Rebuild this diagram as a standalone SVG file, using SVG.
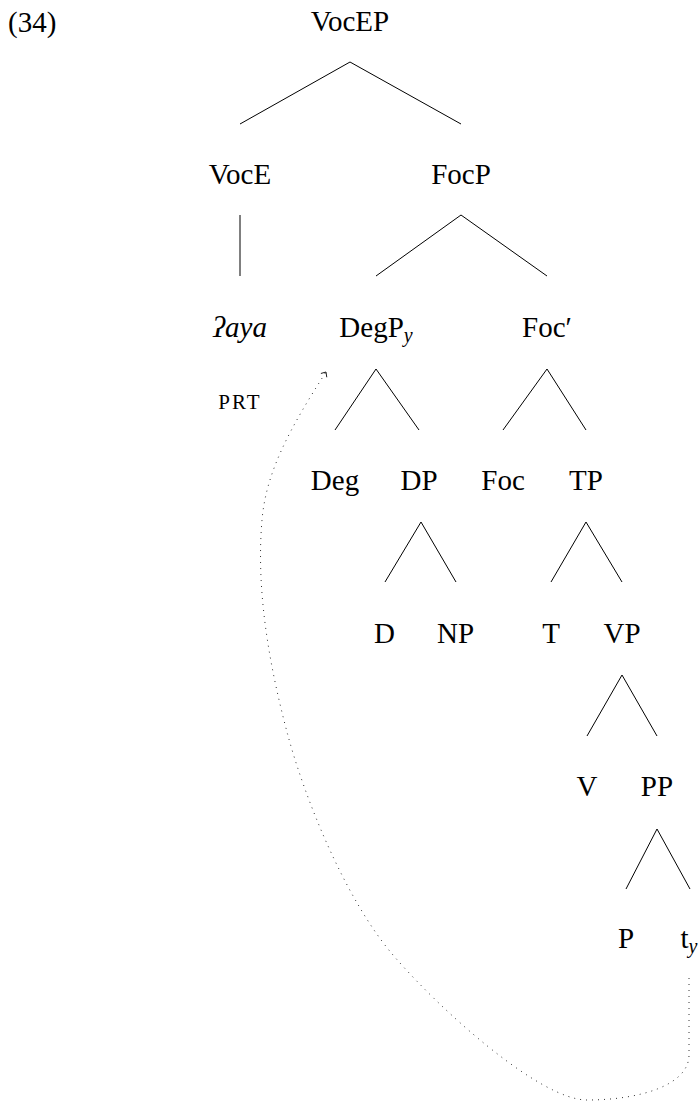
<svg xmlns="http://www.w3.org/2000/svg" width="700" height="1101" viewBox="0 0 700 1101">
<style>
text{font-family:"Liberation Serif","Times New Roman",serif;font-size:29px;fill:#000;text-anchor:middle}
.it{font-style:italic}
.sub{font-size:20px;font-style:italic}
.sc{font-size:21px;letter-spacing:2px}
.edge{stroke:#000;stroke-width:1;fill:none}
.move{stroke:#000;stroke-width:0.9;fill:none;stroke-dasharray:0.9 5.1}
</style>
<defs>
<marker id="arr" viewBox="-6 -5 8 10" refX="0" refY="0" markerWidth="8" markerHeight="10" markerUnits="userSpaceOnUse" orient="auto">
<path d="M-4,-3.5 L0,0 L-4,3.5" stroke="#000" stroke-width="0.8" fill="none"/>
</marker>
</defs>
<rect width="700" height="1101" fill="#fff"/>
<text x="8" y="32" style="text-anchor:start">(34)</text>
<g id="connectors">
<line class="edge" x1="350" y1="62" x2="240" y2="124"/>
<line class="edge" x1="350" y1="62" x2="461" y2="124"/>
<line class="edge" x1="240" y1="215" x2="240" y2="276"/>
<line class="edge" x1="461" y1="215" x2="376" y2="276"/>
<line class="edge" x1="461" y1="215" x2="547" y2="276"/>
<line class="edge" x1="376" y1="369" x2="335" y2="430"/>
<line class="edge" x1="376" y1="369" x2="419" y2="430"/>
<line class="edge" x1="547" y1="369" x2="503" y2="430"/>
<line class="edge" x1="547" y1="369" x2="586" y2="430"/>
<line class="edge" x1="421" y1="522" x2="385" y2="582"/>
<line class="edge" x1="421" y1="522" x2="456" y2="582"/>
<line class="edge" x1="586" y1="522" x2="551" y2="582"/>
<line class="edge" x1="586" y1="522" x2="622" y2="582"/>
<line class="edge" x1="622" y1="675" x2="587" y2="736"/>
<line class="edge" x1="622" y1="675" x2="657" y2="736"/>
<line class="edge" x1="657" y1="829" x2="626" y2="889"/>
<line class="edge" x1="657" y1="829" x2="690" y2="889"/>
<path class="move" marker-end="url(#arr)" d="M689,978 L689,1055 C689,1085 640,1100 587,1100 C540,1100 440,1010 393,955 C346,900 305,800 287,732 C269,664 256,590 262,520 C266,472 290,428 326,372"/>
</g>
<g id="n-VocEP"><text x="350" y="31">VocEP</text></g>
<g id="n-VocE"><text x="240" y="184">VocE</text></g>
<g id="n-FocP"><text x="461" y="184">FocP</text></g>
<g id="n-aya"><text x="240" y="337" class="it">ʔaya</text><text x="240" y="409" class="sc">PRT</text></g>
<g id="n-DegP"><text x="376" y="337">DegP<tspan class="sub" dy="5">y</tspan></text></g>
<g id="n-FocBar"><text x="547" y="337">Foc′</text></g>
<g id="n-Deg"><text x="335" y="490">Deg</text></g>
<g id="n-DP"><text x="419" y="490">DP</text></g>
<g id="n-Foc"><text x="503" y="490">Foc</text></g>
<g id="n-TP"><text x="586" y="490">TP</text></g>
<g id="n-D"><text x="384.5" y="643">D</text></g>
<g id="n-NP"><text x="455.5" y="643">NP</text></g>
<g id="n-T"><text x="551" y="643">T</text></g>
<g id="n-VP"><text x="622" y="643">VP</text></g>
<g id="n-V"><text x="587" y="796">V</text></g>
<g id="n-PP"><text x="657" y="796">PP</text></g>
<g id="n-P"><text x="626" y="948">P</text></g>
<g id="n-ty"><text x="689" y="948">t<tspan class="sub" dy="5">y</tspan></text></g>
</svg>
